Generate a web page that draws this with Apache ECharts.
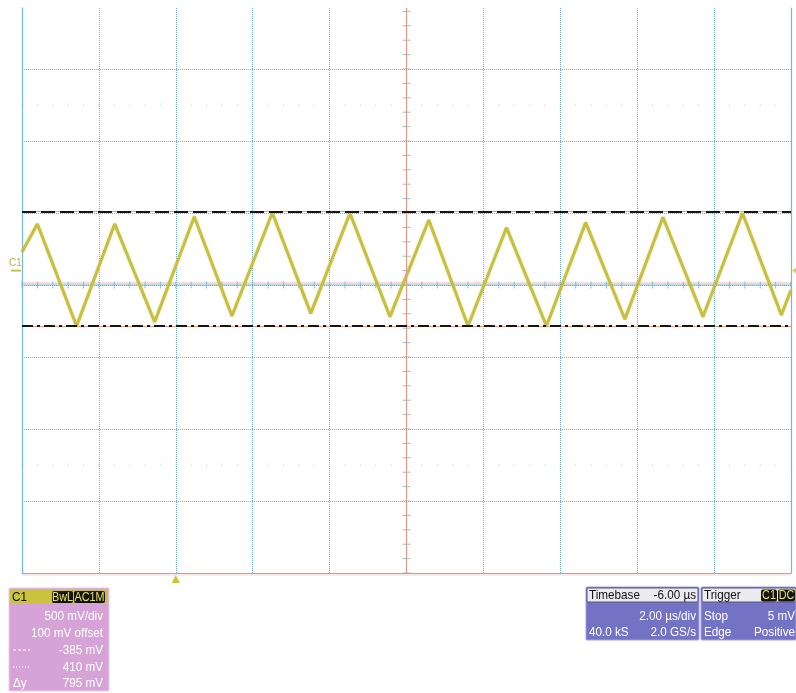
<!DOCTYPE html>
<html>
<head>
<meta charset="utf-8">
<script src="https://cdn.jsdelivr.net/npm/echarts@6/dist/echarts.min.js"></script>
<style>
  html, body { margin: 0; padding: 0; background: #ffffff; }
  #scope { width: 796px; height: 693px; }
</style>
</head>
<body>
<div id="scope"></div>
<script>
// Channel C1 trace: vertices of the triangle wave (time in µs relative to trigger, level in mV)
const timeUs  = [-4.00, -3.60, -2.58, -1.59, -0.55, 0.48, 1.46, 2.51, 3.51, 4.53, 5.57, 6.58, 7.60, 8.60, 9.64, 10.66, 11.68, 12.67, 13.71, 14.74, 15.75, 16.00];
const levelMv = [  129,   324,  -385,   324,  -357,  374, -315,  402, -297,  398, -320,  351, -385,  298, -385,   333,  -338,   370,  -320,   398,  -308,  -135];

// Horizontal cursors (mV)
const cursorHighMv = 410;
const cursorLowMv = -385;

// Acquisition settings
const voltsPerDivMv = 500;
const offsetMv = 100;
const timePerDivUs = 2;
const triggerLevelMv = 5;
const centreTimeUs = 6;

// Readout panel texts
const channelRows = [voltsPerDivMv + ' mV/div', offsetMv + ' mV offset'];
const timebaseHeader = ['Timebase', '-6.00 µs'];
const timebaseRows = ['2.00 µs/div', '40.0 kS', '2.0 GS/s'];
const triggerRows = ['Stop', triggerLevelMv + ' mV', 'Edge', 'Positive'];

const centreMv = -offsetMv;
const yMinMv = centreMv - 4 * voltsPerDivMv;          // bottom of screen
const yMaxMv = centreMv + 3.847 * voltsPerDivMv;      // top of screen (partly clipped)
const xMinUs = centreTimeUs - 5 * timePerDivUs;
const xMaxUs = centreTimeUs + 5 * timePerDivUs;

const GRID_BLUE = '#6fb3dc';
const EDGE_BLUE = '#74b8de';
const TRACE = '#c4bd3a';
const FONT = '"Liberation Sans", Arial, sans-serif';

// Graticule minor ticks along the centre cross and faint marks at ±2.5 div
const hTicks = [], vTicks = [], faintMarks = [];
for (let k = 0; k <= 50; k++) {
  const t = xMinUs + k * timePerDivUs / 5;
  hTicks.push([t, centreMv]);
  faintMarks.push([t, centreMv + 2.5 * voltsPerDivMv]);
  faintMarks.push([t, centreMv - 2.5 * voltsPerDivMv]);
}
for (let k = 0; k <= 39; k++) {
  vTicks.push([centreTimeUs, yMinMv + k * voltsPerDivMv / 5]);
}

const waveData = timeUs.map((t, i) => [t, levelMv[i]]);

const chart = echarts.init(document.getElementById('scope'), null, { renderer: 'canvas' });

chart.setOption({
  animation: false,
  backgroundColor: '#ffffff',
  grid: { left: 22, top: 8, width: 769, height: 565 },
  xAxis: [{
    type: 'value', min: xMinUs, max: xMaxUs, interval: timePerDivUs,
    axisLine: { show: true, onZero: false, lineStyle: { color: EDGE_BLUE, width: 1 } },
    axisTick: { show: false }, axisLabel: { show: false },
    splitLine: { show: true, lineStyle: { color: GRID_BLUE, width: 1, type: [1, 1] } }
  }],
  yAxis: [{
    type: 'value', min: yMinMv, max: yMaxMv,
    axisLine: { show: true, onZero: false, lineStyle: { color: EDGE_BLUE, width: 1.2 } },
    axisTick: { show: false }, axisLabel: { show: false }, splitLine: { show: false }
  }, {
    type: 'value', min: -4, max: 3.847, interval: 1, position: 'right',
    axisLine: { show: true, onZero: false, lineStyle: { color: EDGE_BLUE, width: 1.2 } },
    axisTick: { show: false }, axisLabel: { show: false },
    splitLine: { show: true, showMaxLine: false, lineStyle: { color: GRID_BLUE, width: 1, type: [1, 1] } }
  }],
  series: [
    {
      name: 'faint', type: 'scatter', data: faintMarks, z: 1, silent: true,
      symbol: 'rect', symbolSize: [1, 3],
      itemStyle: { color: 'rgba(130,180,215,0.4)' }
    },
    {
      // horizontal centre line of the graticule
      name: 'centre', type: 'line', data: [[xMinUs, centreMv], [xMaxUs, centreMv]], z: 2,
      showSymbol: false, silent: true,
      lineStyle: { color: '#6fb3dc', width: 1.2, shadowColor: 'rgba(240,160,150,0.8)', shadowOffsetY: -2, shadowBlur: 0 }
    },
    {
      name: 'hticks', type: 'scatter', data: hTicks, z: 2, silent: true,
      symbol: 'rect', symbolSize: [1, 7],
      itemStyle: { color: GRID_BLUE }
    },
    {
      name: 'vticks', type: 'scatter', data: vTicks, z: 2, silent: true,
      symbol: 'rect', symbolSize: [8, 1],
      itemStyle: { color: GRID_BLUE },
      markLine: {
        silent: true, symbol: ['none', 'none'], label: { show: false },
        lineStyle: { color: '#e69a88', width: 1.2, type: 'solid' },
        data: [ { xAxis: centreTimeUs } ]
      }
    },
    {
      name: 'C1', type: 'line', data: waveData, z: 4,
      showSymbol: false, silent: true,
      lineStyle: { color: TRACE, width: 3, opacity: 0.95, shadowColor: 'rgba(200,190,60,0.6)', shadowBlur: 2 },
      markLine: {
        silent: true, symbol: ['none', 'none'], label: { show: false },
        data: [
          { yAxis: cursorHighMv, lineStyle: { color: '#ef9a86', width: 1, type: 'solid' } },
          { yAxis: cursorHighMv, lineStyle: { color: '#151515', width: 2, type: [14, 5] } },
          { yAxis: cursorLowMv, lineStyle: { color: '#ef9a86', width: 1, type: 'solid' } },
          { yAxis: cursorLowMv, lineStyle: { color: '#151515', width: 2, type: [11, 4, 3, 4] } }
        ]
      }
    }
  ]
});

// Markers placed from the axes: ground level of C1 and trigger time
const ground = chart.convertToPixel({ xAxisIndex: 0, yAxisIndex: 0 }, [xMinUs, 0]);
const trig = chart.convertToPixel({ xAxisIndex: 0, yAxisIndex: 0 }, [0, yMinMv]);
const rightEdge = chart.convertToPixel({ xAxisIndex: 0, yAxisIndex: 0 }, [xMaxUs, 0]);

function txt(x, y, text, fill, align, size) {
  return {
    type: 'text', x: x, y: y, z: 20, scaleX: 0.9,
    style: { text: text, fill: fill, align: align || 'left', verticalAlign: 'middle', font: (size || 13) + 'px ' + FONT }
  };
}
function box(x, y, w, h, fill, stroke) {
  return { type: 'rect', z: 10, shape: { x: x, y: y, width: w, height: h, r: 1 }, style: { fill: fill, stroke: stroke || null, lineWidth: 1 } };
}
function tag(x, w, y, label) {
  return [
    { type: 'rect', z: 15, shape: { x: x, y: y, width: w, height: 12, r: 2 }, style: { fill: '#141410' } },
    txt(x + w / 2, y + 6.5, label, '#e9e06a', 'center', 12)
  ];
}

const panelText = '#ffffff';
const graphics = [
  // C1 ground marker on the left and right edges
  txt(9, ground[1] - 8, 'C1', '#b9b43c', 'left', 11),
  { type: 'rect', z: 20, shape: { x: 11, y: ground[1] - 1, width: 10, height: 2 }, style: { fill: '#c7c14a' } },
  { type: 'polygon', z: 20, shape: { points: [[rightEdge[0] + 1, ground[1]], [rightEdge[0] + 5, ground[1] - 3], [rightEdge[0] + 5, ground[1] + 3]] }, style: { fill: '#d6cf55' } },
  // trigger position marker
  { type: 'polygon', z: 20, shape: { points: [[trig[0], trig[1] + 2], [trig[0] - 4, trig[1] + 10], [trig[0] + 4, trig[1] + 10]] }, style: { fill: '#cbc23a' } },
  { type: 'line', z: 5, shape: { x1: 22, y1: trig[1] + 2, x2: 791, y2: trig[1] + 2 }, style: { stroke: 'rgba(240,170,160,0.5)', lineWidth: 1 } },

  // Channel readout
  box(9, 588, 100, 103, '#d6a3d7', '#ecc8ec'),
  box(10, 590, 98, 13, '#c9c33e'),
  txt(12, 597, 'C1', '#111111', 'left', 13),
  ...tag(52, 21, 591, 'BwL'),
  ...tag(74, 31, 591, 'AC1M'),
  txt(103, 616, channelRows[0], panelText, 'right'),
  txt(103, 633, channelRows[1], panelText, 'right'),
  { type: 'line', z: 20, shape: { x1: 13, y1: 650, x2: 30, y2: 650 }, style: { stroke: '#ffffff', lineWidth: 1, lineDash: [3, 2] } },
  txt(103, 650, cursorLowMv + ' mV', panelText, 'right'),
  { type: 'line', z: 20, shape: { x1: 13, y1: 667, x2: 30, y2: 667 }, style: { stroke: '#ffffff', lineWidth: 1, lineDash: [1, 2] } },
  txt(103, 667, cursorHighMv + ' mV', panelText, 'right'),
  txt(13, 683, 'Δy', panelText, 'left'),
  txt(103, 683, (cursorHighMv - cursorLowMv) + ' mV', panelText, 'right'),

  // Timebase readout
  box(586, 587, 113, 53, '#7472c4', '#a09ee0'),
  box(587, 588, 111, 14, '#ececf0', '#55557a'),
  txt(589, 595.5, timebaseHeader[0], '#111111', 'left'),
  txt(696, 595.5, timebaseHeader[1], '#111111', 'right'),
  txt(696, 616, timebaseRows[0], panelText, 'right'),
  txt(589, 632, timebaseRows[1], panelText, 'left'),
  txt(696, 632, timebaseRows[2], panelText, 'right'),

  // Trigger readout
  box(701, 587, 95, 53, '#7472c4', '#a09ee0'),
  box(702, 588, 94, 14, '#ececf0', '#55557a'),
  txt(704, 595.5, 'Trigger', '#111111', 'left'),
  ...tag(761, 16, 589.5, 'C1'),
  ...tag(778, 17, 589.5, 'DC'),
  txt(704, 616, triggerRows[0], panelText, 'left'),
  txt(795, 616, triggerRows[1], panelText, 'right'),
  txt(704, 632, triggerRows[2], panelText, 'left'),
  txt(795, 632, triggerRows[3], panelText, 'right')
];

chart.setOption({ graphic: graphics });
</script>
</body>
</html>
